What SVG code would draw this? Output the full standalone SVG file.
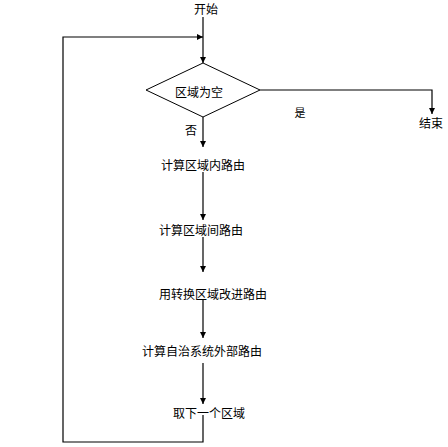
<svg xmlns="http://www.w3.org/2000/svg" width="448" height="447" viewBox="0 0 448 447">
<style>
.t{font-family:"Noto Sans CJK SC","Liberation Sans",sans-serif;font-size:12px;fill:#000;text-anchor:middle}
.c{fill:none;stroke:#000;stroke-width:1.2}
.n{fill:#fff;stroke:#000;stroke-width:1}
</style>
<defs>
<marker id="a" markerUnits="userSpaceOnUse" markerWidth="8" markerHeight="8" viewBox="0 0 8 8" refX="7" refY="4" orient="auto">
<path d="M1,1 L7,4 L1,7 Z" fill="#000"/>
</marker>
</defs>
<rect width="448" height="447" fill="#fff"/>
<g id="connectors">
<path class="c" d="M203,17 L203,63" marker-end="url(#a)"/>
<path class="c" d="M260,90 L432,90 L432,114" marker-end="url(#a)"/>
<path class="c" d="M203,117 L203,147" marker-end="url(#a)"/>
<path class="c" d="M203,172 L203,220" marker-end="url(#a)"/>
<path class="c" d="M203,237 L203,272" marker-end="url(#a)"/>
<path class="c" d="M203,299 L203,338" marker-end="url(#a)"/>
<path class="c" d="M203,363 L203,404" marker-end="url(#a)"/>
<path class="c" d="M203,415 L203,442 L63,442 L63,37 L203,37" marker-end="url(#a)"/>
<text class="t" x="191" y="135">否</text>
<text class="t" x="300" y="116.5" style="font-size:11px">是</text>
</g>
<g id="start"><text class="t" x="206" y="13.5">开始</text></g>
<g id="decision">
<polygon class="n" points="203,63 260,90 203,117 146,90"/>
<text class="t" x="199" y="96.5">区域为空</text>
</g>
<g id="end"><text class="t" x="431" y="128">结束</text></g>
<g id="step1"><text class="t" x="203" y="169.5">计算区域内路由</text></g>
<g id="step2"><text class="t" x="201" y="234.5">计算区域间路由</text></g>
<g id="step3"><text class="t" x="213" y="298.5">用转换区域改进路由</text></g>
<g id="step4"><text class="t" x="202" y="356">计算自治系统外部路由</text></g>
<g id="step5"><text class="t" x="209" y="417.5">取下一个区域</text></g>
</svg>
